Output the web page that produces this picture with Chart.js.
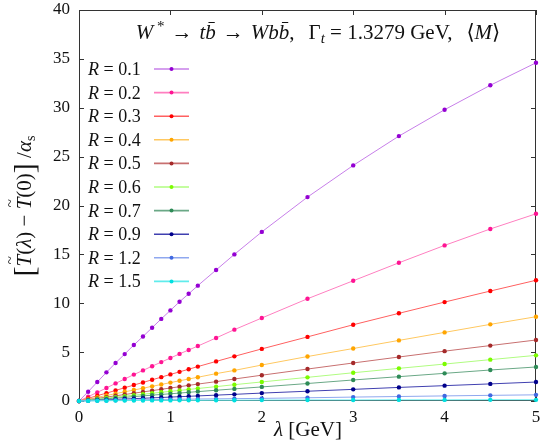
<!DOCTYPE html>
<html>
<head>
<meta charset="utf-8">
<script src="https://cdn.jsdelivr.net/npm/chart.js@4.4.0/dist/chart.umd.min.js"></script>
<style>
html, body { margin: 0; padding: 0; background: #fff; }
#wrap { width: 540px; height: 445px; }
</style>
</head>
<body>
<div id="wrap"><canvas id="c"></canvas></div>
<script>
// lambda values in GeV
const lambda = [0, 0.1, 0.2, 0.3, 0.4, 0.5, 0.6, 0.7, 0.8, 0.9, 1.0, 1.1, 1.2, 1.3, 1.5, 1.7, 2.0, 2.5, 3.0, 3.5, 4.0, 4.5, 5.0];
const rLabels = ["0.1", "0.2", "0.3", "0.4", "0.5", "0.6", "0.7", "0.9", "1.2", "1.5"];
const r01 = [0, 0.95, 1.94, 2.93, 3.89, 4.8, 5.73, 6.6, 7.5, 8.4, 9.27, 10.15, 10.97, 11.8, 13.4, 15.0, 17.3, 20.86, 24.1, 27.1, 29.8, 32.3, 34.6];
const r02 = [0, 0.44, 0.88, 1.33, 1.8, 2.25, 2.7, 3.13, 3.56, 3.98, 4.4, 4.82, 5.22, 5.62, 6.45, 7.3, 8.49, 10.46, 12.3, 14.14, 15.92, 17.6, 19.15];
const r03 = [0, 0.27, 0.55, 0.8, 1.08, 1.36, 1.63, 1.9, 2.17, 2.44, 2.72, 2.98, 3.25, 3.52, 4.05, 4.57, 5.33, 6.56, 7.8, 8.97, 10.12, 11.25, 12.35];
const r04 = [0, 0.19, 0.38, 0.56, 0.75, 0.94, 1.12, 1.31, 1.5, 1.69, 1.88, 2.07, 2.25, 2.43, 2.8, 3.13, 3.68, 4.55, 5.37, 6.2, 7.02, 7.84, 8.62];
const r05 = [0, 0.14, 0.27, 0.4, 0.53, 0.66, 0.8, 0.93, 1.06, 1.2, 1.33, 1.46, 1.6, 1.73, 1.98, 2.25, 2.64, 3.27, 3.89, 4.5, 5.1, 5.67, 6.24];
const r06 = [0, 0.1, 0.2, 0.3, 0.4, 0.5, 0.6, 0.69, 0.79, 0.89, 0.99, 1.08, 1.18, 1.28, 1.47, 1.67, 1.95, 2.42, 2.89, 3.34, 3.78, 4.23, 4.67];
const r07 = [0, 0.075, 0.15, 0.22, 0.3, 0.37, 0.45, 0.52, 0.6, 0.67, 0.74, 0.81, 0.89, 0.96, 1.1, 1.24, 1.44, 1.79, 2.15, 2.49, 2.83, 3.17, 3.48];
const r09 = [0, 0.04, 0.08, 0.12, 0.16, 0.2, 0.24, 0.28, 0.32, 0.36, 0.4, 0.44, 0.48, 0.52, 0.6, 0.68, 0.81, 1.0, 1.19, 1.39, 1.57, 1.75, 1.94];
const r12 = [0, 0.02, 0.04, 0.06, 0.08, 0.1, 0.11, 0.13, 0.14, 0.16, 0.17, 0.18, 0.19, 0.2, 0.22, 0.24, 0.27, 0.33, 0.4, 0.46, 0.52, 0.58, 0.63];
const r15 = [0, 0.01, 0.02, 0.03, 0.04, 0.04, 0.05, 0.05, 0.06, 0.06, 0.06, 0.07, 0.07, 0.07, 0.08, 0.08, 0.09, 0.1, 0.1, 0.11, 0.11, 0.12, 0.12];
const xTicks = [0, 1, 2, 3, 4, 5];
const yTicks = [0, 5, 10, 15, 20, 25, 30, 35, 40];

const series = [r01, r02, r03, r04, r05, r06, r07, r09, r12, r15];
const colors = ["#9400d3", "#ff1493", "#ff0000", "#ffa500", "#a52a2a", "#7cfc00", "#2e8b57", "#00008b", "#4169e1", "#00e0e0"];
const lineColors = ["#c77fe9", "#ff7fc0", "#ff6060", "#ffc860", "#c87070", "#b0fc80", "#6aa886", "#4040b0", "#8fa8ef", "#60ecec"];

const serif = "'Liberation Serif', 'DejaVu Serif', serif";

// draw a sequence of text runs, returns total width
function runs(ctx, parts, x, y, measureOnly) {
    let cx = x;
    parts.forEach(p => {
        ctx.font = p.f;
        const w = ctx.measureText(p.t).width;
        if (!measureOnly) {
            ctx.fillText(p.t, cx, y + (p.dy || 0));
            if (p.bar) {
                ctx.fillRect(cx + w * 0.3, y + (p.dy || 0) - p.bar, w * 0.6, 1);
            }
            if (p.tilde) {
                ctx.save();
                ctx.font = "15px " + serif;
                ctx.fillText("~", cx + w * 0.18, y - p.tilde);
                ctx.restore();
            }
        }
        cx += w;
    });
    return cx - x;
}

const decor = {
    id: "decor",
    beforeDatasetsDraw(chart) {
        const ctx = chart.ctx, a = chart.chartArea;
        const xs = chart.scales.x, ys = chart.scales.y;
        ctx.save();
        ctx.strokeStyle = "#333";
        ctx.lineWidth = 1;
        ctx.strokeRect(Math.round(a.left) + 0.5, Math.round(a.top) + 0.5, Math.round(a.right - a.left) - 1, Math.round(a.bottom - a.top) - 1);
        ctx.beginPath();
        xTicks.forEach(v => {
            const px = Math.round(xs.getPixelForValue(v)) + 0.5;
            ctx.moveTo(px, a.bottom); ctx.lineTo(px, a.bottom - 5);
            ctx.moveTo(px, a.top); ctx.lineTo(px, a.top + 5);
        });
        yTicks.forEach(v => {
            const py = Math.round(ys.getPixelForValue(v)) + 0.5;
            ctx.moveTo(a.left, py); ctx.lineTo(a.left + 5, py);
            ctx.moveTo(a.right, py); ctx.lineTo(a.right - 5, py);
        });
        ctx.stroke();
        ctx.restore();
    },
    afterDraw(chart) {
        const ctx = chart.ctx;
        ctx.save();
        ctx.fillStyle = "#111";
        ctx.textBaseline = "alphabetic";
        const it = "italic 21px " + serif, up = "21px " + serif;
        const sm = "italic 15px " + serif;
        const sp = "\u2004";

        // title
        const title = [
            { t: "W", f: it }, { t: " *", f: "15px " + serif, dy: -8 }, { t: sp + "\u2192" + sp, f: up },
            { t: "t", f: it }, { t: "b", f: it, bar: 17 }, { t: sp + "\u2192" + sp, f: up },
            { t: "W", f: it }, { t: "b", f: it }, { t: "b", f: it, bar: 17 },
            { t: "," + sp + sp + "\u0393", f: up }, { t: "t", f: sm, dy: 4 },
            { t: " = 1.3279 GeV," + sp + sp + "\u27e8", f: up }, { t: "M", f: it }, { t: "\u27e9", f: up }
        ];
        const tw = runs(ctx, title, 0, 0, true);
        runs(ctx, title, 318 - tw / 2, 39);

        // legend
        rLabels.forEach((r, i) => {
            const y = 69 + i * 23.6;
            runs(ctx, [{ t: "R", f: "italic 18px " + serif }, { t: " = " + r, f: "18px " + serif }], 88, y + 6);
            ctx.strokeStyle = lineColors[i];
            ctx.lineWidth = 1.6;
            ctx.beginPath(); ctx.moveTo(154, y); ctx.lineTo(189, y); ctx.stroke();
            ctx.fillStyle = colors[i];
            ctx.beginPath(); ctx.arc(171.5, y, 2, 0, Math.PI * 2); ctx.fill();
            ctx.fillStyle = "#111";
        });

        // x axis title
        const xt = [{ t: "\u03bb", f: it }, { t: " [GeV]", f: up }];
        const xw = runs(ctx, xt, 0, 0, true);
        runs(ctx, xt, 308 - xw / 2, 436);

        // y axis title
        ctx.translate(31, 206);
        ctx.rotate(-Math.PI / 2);
        const br = "30px " + serif;
        const yt = [
            { t: "[", f: br, dy: 3 }, { t: "T", f: it, tilde: 16 }, { t: "(", f: up }, { t: "\u03bb", f: it },
            { t: ") \u2212 ", f: up }, { t: "T", f: it, tilde: 16 }, { t: "(0)", f: up }, { t: "]", f: br, dy: 3 },
            { t: " /", f: up }, { t: "\u03b1", f: it }, { t: "s", f: "14px " + serif, dy: 4 }
        ];
        const yw = runs(ctx, yt, 0, 0, true);
        runs(ctx, yt, -yw / 2, 0);
        ctx.restore();
    }
};

new Chart(document.getElementById("c"), {
    type: "line",
    data: {
        labels: lambda,
        datasets: series.map((s, i) => ({
            label: "R = " + rLabels[i],
            data: s.map((v, j) => ({ x: lambda[j], y: v })),
            borderColor: lineColors[i],
            backgroundColor: colors[i],
            pointBackgroundColor: colors[i],
            pointBorderWidth: 0,
            pointRadius: 2.2,
            borderWidth: 1,
            tension: 0,
            clip: false
        })).reverse()
    },
    options: {
        responsive: true,
        maintainAspectRatio: false,
        animation: false,
        layout: { padding: { top: 10, right: 3, left: 0, bottom: 0 } },
        plugins: { legend: { display: false }, tooltip: { enabled: false } },
        scales: {
            x: {
                type: "linear", min: 0, max: 5,
                afterBuildTicks: s => { s.ticks = xTicks.map(v => ({ value: v })); },
                afterFit: s => { s.height = 44; s.paddingLeft = 0; s.paddingRight = 0; },
                grid: { display: false, drawTicks: false },
                border: { display: false },
                ticks: { color: "#111", padding: 6, font: { family: serif, size: 17 } }
            },
            y: {
                min: 0, max: 40,
                afterBuildTicks: s => { s.ticks = yTicks.map(v => ({ value: v })); },
                afterFit: s => { s.width = 79; s.paddingTop = 0; s.paddingBottom = 0; },
                grid: { display: false, drawTicks: false },
                border: { display: false },
                ticks: { color: "#111", padding: 9, font: { family: serif, size: 17 } }
            }
        }
    },
    plugins: [decor]
});
</script>
</body>
</html>
